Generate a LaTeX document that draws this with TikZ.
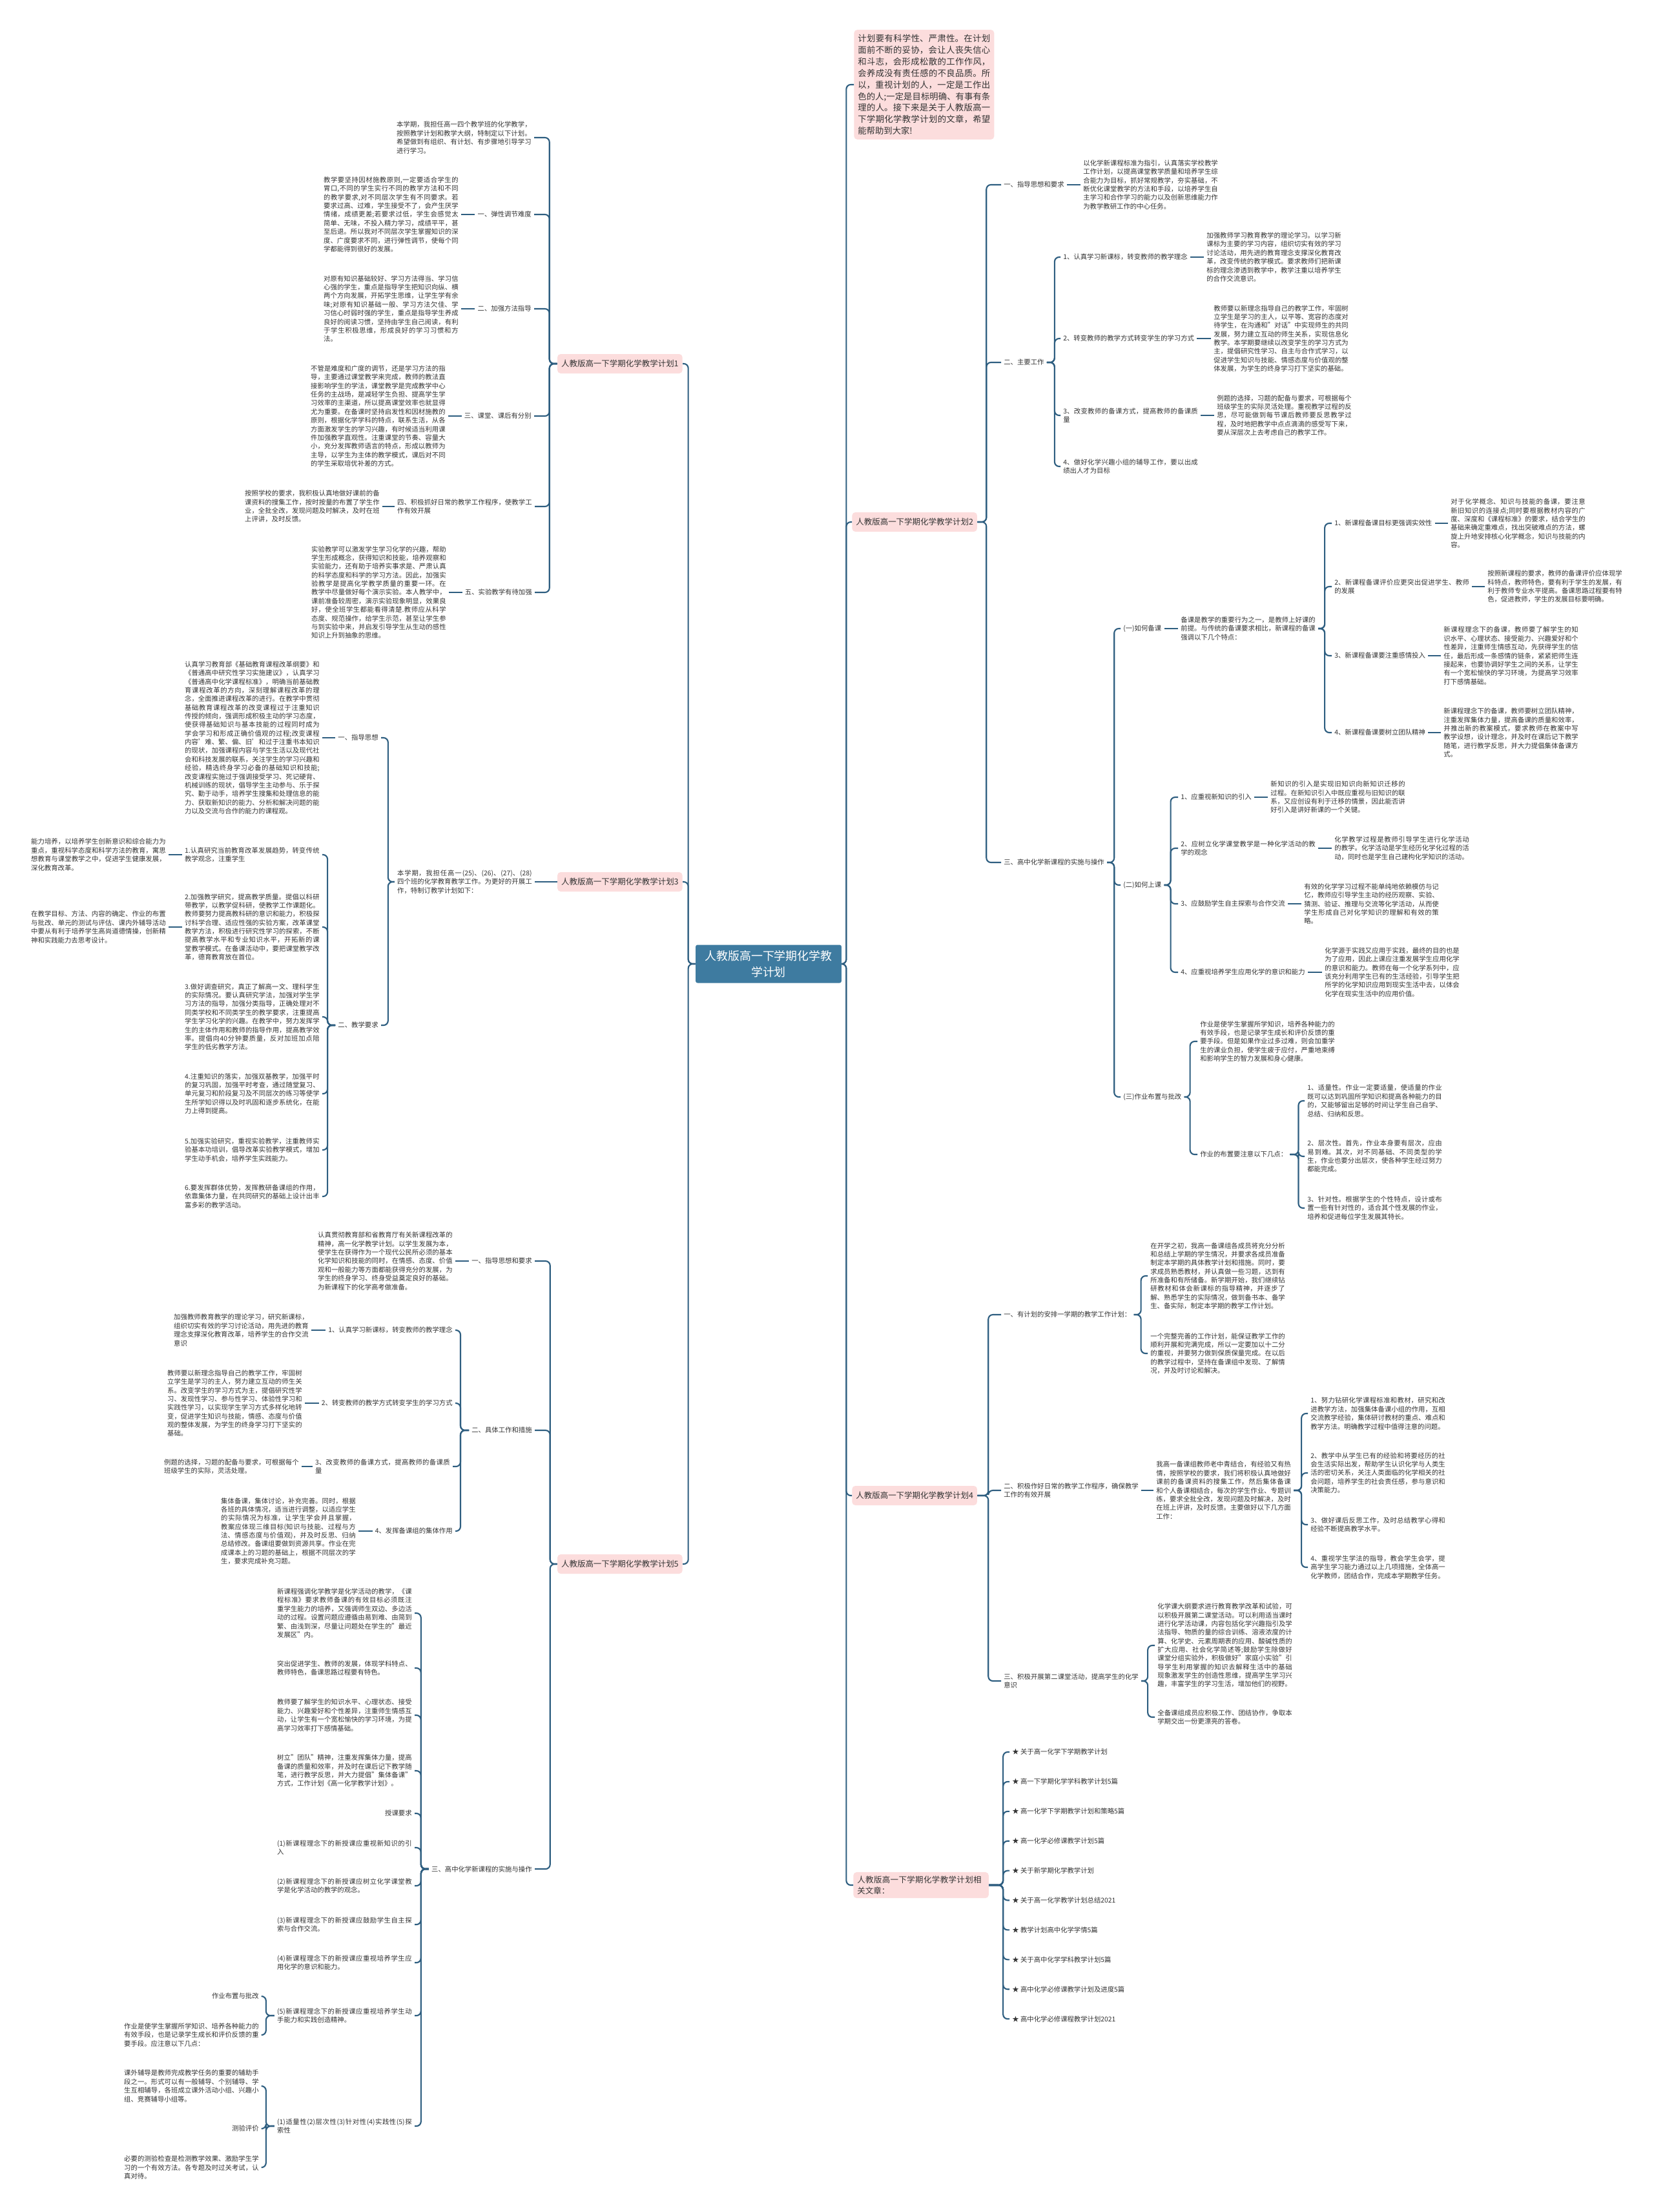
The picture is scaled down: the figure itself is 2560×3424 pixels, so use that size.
\documentclass[tikz,border=0pt]{standalone}
\usepackage{fontspec}
\setmainfont{Noto Sans CJK SC}
\XeTeXlinebreaklocale "zh"
\XeTeXlinebreakskip=0pt plus 1pt
\setlength{\parindent}{0pt}
\definecolor{linkblue}{RGB}{46,94,128}
\definecolor{inkgray}{RGB}{51,51,51}
\definecolor{planpink}{RGB}{252,221,221}
\definecolor{rootblue}{RGB}{62,123,160}

\begin{document}
\begin{tikzpicture}[
  x=0.02cm, y=-0.02cm,
  link/.style={draw=linkblue, line width=1.2pt, rounded corners=0.14cm},
  txt/.style={font=\fontsize{5.9}{7.6}\selectfont, text=inkgray,
    inner xsep=0.08cm, inner ysep=0.03cm},
  para/.style={txt, text width=4.17cm, align=justify},
  lt/.style={anchor=east},
  rt/.style={anchor=west},
  plan/.style={fill=planpink, rounded corners=0.1cm, text=inkgray,
    font=\fontsize{7.1}{9.6}\selectfont, inner xsep=0.12cm, minimum height=0.6cm},
  root/.style={fill=rootblue, text=white, rounded corners=0.06cm,
    font=\fontsize{10.2}{14.2}\selectfont, align=center,
    minimum width=4.52cm, minimum height=1.18cm},
  intro/.style={plan, font=\fontsize{7.6}{10.2}\selectfont, text width=4.1cm,
    align=justify, inner ysep=0.14cm}
]
\fill[white] (0,0) rectangle (2560,3424);
\useasboundingbox (0,0) rectangle (2560,3424);

\node[root] (root) at (1190,1492) {人教版高一下学期化学教\\学计划};

% plan 1
\node[plan, lt] (p1) at (1057,563) {人教版高一下学期化学教学计划1};
\node[para, lt] (p1t) at (827,213) {本学期，我担任高一四个教学班的化学教学，按照教学计划和教学大纲，特制定以下计划。希望做到有组织、有计划、有步骤地引导学习进行学习。};
\node[txt, lt] (p1a) at (827,332) {一、弹性调节难度};
\node[para, lt] (p1at) at (714,332) {教学要坚持因材施教原则,一定要适合学生的胃口,不同的学生实行不同的教学方法和不同的教学要求,对不同层次学生有不同要求。若要求过高、过难，学生接受不了，会产生厌学情绪，成绩更差;若要求过低，学生会感觉太简单、无味，不投入精力学习，成绩平平，甚至后退。所以我对不同层次学生掌握知识的深度、广度要求不同，进行弹性调节，使每个同学都能得到很好的发展。};
\node[txt, lt] (p1b) at (827,478) {二、加强方法指导};
\node[para, lt] (p1bt) at (714,478) {对原有知识基础较好、学习方法得当、学习信心强的学生，重点是指导学生把知识向纵、横两个方向发展，开拓学生思维，让学生学有余味;对原有知识基础一般、学习方法欠佳、学习信心时弱时强的学生，重点是指导学生养成良好的阅读习惯，坚持由学生自己阅读，有利于学生积极思维，形成良好的学习习惯和方法。};
\node[txt, lt] (p1c) at (827,644) {三、课堂、课后有分别};
\node[para, lt] (p1ct) at (694,644) {不管是难度和广度的调节，还是学习方法的指导，主要通过课堂教学来完成，教师的教法直接影响学生的学法，课堂教学是完成教学中心任务的主战场，是减轻学生负担、提高学生学习效率的主渠道，所以提高课堂效率也就显得尤为重要。在备课时坚持启发性和因材施教的原则，根据化学学科的特点，联系生活，从各方面激发学生的学习兴趣，有时候适当利用课件加强教学直观性。注重课堂的节奏、容量大小，充分发挥教师语言的特点，形成以教师为主导，以学生为主体的教学模式，课后对不同的学生采取培优补差的方式。};
\node[para, lt] (p1d) at (828,784) {四、积极抓好日常的教学工作程序，使教学工作有效开展};
\node[para, lt] (p1dt) at (592,784) {按照学校的要求，我积极认真地做好课前的备课资料的搜集工作，按时按量的布置了学生作业，全批全改，发现问题及时解决，及时在班上评讲，及时反馈。};
\node[txt, lt] (p1e) at (828,917) {五、实验教学有待加强};
\node[para, lt] (p1et) at (695,917) {实验教学可以激发学生学习化学的兴趣，帮助学生形成概念，获得知识和技能，培养观察和实验能力，还有助于培养实事求是、严肃认真的科学态度和科学的学习方法。因此，加强实验教学是提高化学教学质量的重要一环。在教学中尽量做好每个演示实验。本人教学中，课前准备较周密，演示实验现象明显，效果良好，使全班学生都能看得清楚.教师应从科学态度、规范操作，给学生示范，甚至让学生参与到实验中来，并启发引导学生从生动的感性知识上升到抽象的思维。};

% plan 3
\node[plan, lt] (p3) at (1057,1365) {人教版高一下学期化学教学计划3};
\node[para, lt] (p3t) at (828,1365) {本学期，我担任高一(25)、(26)、(27)、(28)四个班的化学教育教学工作。为更好的开展工作，特制订教学计划如下：};
\node[txt, lt] (p3a) at (590,1142) {一、指导思想};
\node[para, lt] (p3at) at (499,1142) {认真学习教育部《基础教育课程改革纲要》和《普通高中研究性学习实施建议》，认真学习《普通高中化学课程标准》，明确当前基础教育课程改革的方向，深刻理解课程改革的理念，全面推进课程改革的进行。在教学中贯彻基础教育课程改革的改变课程过于注重知识传授的倾向，强调形成积极主动的学习态度，使获得基础知识与基本技能的过程同时成为学会学习和形成正确价值观的过程;改变课程内容'难、繁、偏、旧'和过于注重书本知识的现状，加强课程内容与学生生活以及现代社会和科技发展的联系，关注学生的学习兴趣和经验，精选终身学习必备的基础知识和技能;改变课程实施过于强调接受学习、死记硬背、机械训练的现状，倡导学生主动参与、乐于探究、勤于动手，培养学生搜集和处理信息的能力、获取新知识的能力、分析和解决问题的能力以及交流与合作的能力的课程观。};
\node[txt, lt] (p3b) at (590,1587) {二、教学要求};
\node[para, lt] (p3b1) at (499,1323) {1.认真研究当前教育改革发展趋势，转变传统教学观念，注重学生};
\node[para, lt] (p3b1x) at (261,1323) {能力培养，以培养学生创新意识和综合能力为重点，重视科学态度和科学方法的教育，寓思想教育与课堂教学之中，促进学生健康发展，深化教育改革。};
\node[para, lt] (p3b2) at (499,1435) {2.加强教学研究，提高教学质量。提倡以科研带教学，以教学促科研，使教学工作课题化。教师要努力提高教科研的意识和能力，积极探讨科学合理、适应性强的实验方案，改革课堂教学方法，积极进行研究性学习的探索，不断提高教学水平和专业知识水平，开拓新的课堂教学模式。在备课活动中，要把课堂教学改革，德育教育放在首位。};
\node[para, lt] (p3b2x) at (261,1435) {在教学目标、方法、内容的确定、作业的布置与批改、单元的测试与评估、课内外辅导活动中要从有利于培养学生高尚道德情操，创新精神和实践能力去思考设计。};
\node[para, lt] (p3b3) at (499,1574) {3.做好调查研究，真正了解高一文、理科学生的实际情况。要认真研究学法，加强对学生学习方法的指导，加强分类指导，正确处理对不同类学校和不同类学生的教学要求，注重提高学生学习化学的兴趣。在教学中，努力发挥学生的主体作用和教师的指导作用，提高教学效率。提倡向40分钟要质量，反对加班加点陪学生的低劣教学方法。};
\node[para, lt] (p3b4) at (499,1693) {4.注重知识的落实，加强双基教学，加强平时的复习巩固，加强平时考查，通过随堂复习、单元复习和阶段复习及不同层次的练习等使学生所学知识得以及时巩固和逐步系统化，在能力上得到提高。};
\node[para, lt] (p3b5) at (499,1780) {5.加强实验研究，重视实验教学，注重教师实验基本功培训，倡导改革实验教学模式，增加学生动手机会，培养学生实践能力。};
\node[para, lt] (p3b6) at (499,1852) {6.要发挥群体优势，发挥教研备课组的作用，依靠集体力量，在共同研究的基础上设计出丰富多彩的教学活动。};

% plan 5
\node[plan, lt] (p5) at (1057,2421) {人教版高一下学期化学教学计划5};
\node[txt, lt] (p5a) at (828,1952) {一、指导思想和要求};
\node[para, lt] (p5at) at (705,1952) {认真贯彻教育部和省教育厅有关新课程改革的精神，高一化学教学计划。以学生发展为本，使学生在获得作为一个现代公民所必须的基本化学知识和技能的同时，在情感、态度、价值观和一般能力等方面都能获得充分的发展，为学生的终身学习、终身受益奠定良好的基础。为新课程下的化学高考做准备。};
\node[txt, lt] (p5b) at (828,2214) {二、具体工作和措施};
\node[txt, lt] (p5b1) at (705,2059) {1、认真学习新课标，转变教师的教学理念};
\node[para, lt] (p5b1t) at (482,2059) {加强教师教育教学的理论学习，研究新课标，组织切实有效的学习讨论活动，用先进的教育理念支撑深化教育改革，培养学生的合作交流意识};
\node[txt, lt] (p5b2) at (705,2172) {2、转变教师的教学方式转变学生的学习方式};
\node[para, lt] (p5b2t) at (472,2172) {教师要以新理念指导自己的教学工作，牢固树立学生是学习的主人，努力建立互动的师生关系。改变学生的学习方式为主，提倡研究性学习、发现性学习、参与性学习、体验性学习和实践性学习，以实现学生学习方式多样化地转变，促进学生知识与技能，情感、态度与价值观的整体发展，为学生的终身学习打下坚实的基础。};
\node[para, lt] (p5b3) at (701,2270) {3、改变教师的备课方式，提高教师的备课质量};
\node[para, lt] (p5b3t) at (467,2270) {例题的选择，习题的配备与要求，可根据每个班级学生的实际，灵活处理。};
\node[txt, lt] (p5b4) at (705,2370) {4、发挥备课组的集体作用};
\node[para, lt] (p5b4t) at (555,2370) {集体备课，集体讨论，补充完善。同时，根据各班的具体情况，适当进行调整，以适应学生的实际情况为标准，让学生学会并且掌握，教案应体现三维目标(知识与技能、过程与方法、情感态度与价值观)，并及时反思、归纳总结修改。备课组要做到资源共享。作业在完成课本上的习题的基础上，根据不同层次的学生，要求完成补充习题。};
\node[txt, lt] (p5c) at (828,2893) {三、高中化学新课程的实施与操作};
\node[para, lt] (c1) at (642,2497) {新课程强调化学教学是化学活动的教学，《课程标准》要求教师备课的有效目标必须既注重学生能力的培养，又强调师生双边、多边活动的过程。设置问题应遵循由易到难、由简到繁、由浅到深，尽量让问题处在学生的"最近发展区"内。};
\node[para, lt] (c2) at (642,2582) {突出促进学生、教师的发展，体现学科特点、教师特色，备课思路过程要有特色。};
\node[para, lt] (c3) at (642,2655) {教师要了解学生的知识水平、心理状态、接受能力、兴趣爱好和个性差异，注重师生情感互动，让学生有一个宽松愉快的学习环境，为提高学习效率打下感情基础。};
\node[para, lt] (c4) at (642,2741) {树立"团队"精神，注重发挥集体力量，提高备课的质量和效率，并及时在课后记下教学随笔，进行教学反思，并大力提倡"集体备课"方式，工作计划《高一化学教学计划》。};
\node[txt, lt] (c5) at (642,2807) {授课要求};
\node[para, lt] (c6) at (642,2860) {(1)新课程理念下的新授课应重视新知识的引入};
\node[para, lt] (c7) at (642,2919) {(2)新课程理念下的新授课应树立化学课堂教学是化学活动的教学的观念。};
\node[para, lt] (c8) at (642,2979) {(3)新课程理念下的新授课应鼓励学生自主探索与合作交流。};
\node[para, lt] (c9) at (642,3038) {(4)新课程理念下的新授课应重视培养学生应用化学的意识和能力。};
\node[para, lt] (c10) at (642,3120) {(5)新课程理念下的新授课应重视培养学生动手能力和实践创造精神。};
\node[para, lt] (c11) at (642,3291) {(1)适量性(2)层次性(3)针对性(4)实践性(5)探索性};
\node[txt, lt] (c12) at (405,3090) {作业布置与批改};
\node[para, lt] (c13) at (405,3150) {作业是使学生掌握所学知识、培养各种能力的有效手段，也是记录学生成长和评价反馈的重要手段。应注意以下几点：};
\node[para, lt] (c14) at (405,3229) {课外辅导是教师完成教学任务的重要的辅助手段之一。形式可以有一般辅导、个别辅导、学生互相辅导，各班成立课外活动小组、兴趣小组、竞赛辅导小组等。};
\node[txt, lt] (c15) at (405,3295) {测验评价};
\node[para, lt] (c16) at (405,3355) {必要的测验检查是检测教学效果、激励学生学习的一个有效方法。各专题及时过关考试，认真对待。};

% intro and plan 2
\node[intro, rt] (intro) at (1322,131) {计划要有科学性、严肃性。在计划面前不断的妥协，会让人丧失信心和斗志，会形成松散的工作作风，会养成没有责任感的不良品质。所以，重视计划的人，一定是工作出色的人;一定是目标明确、有事有条理的人。接下来是关于人教版高一下学期化学教学计划的文章，希望能帮助到大家!};
\node[plan, rt] (p2) at (1319,808) {人教版高一下学期化学教学计划2};
\node[txt, rt] (p2a) at (1550,286) {一、指导思想和要求};
\node[para, rt] (p2at) at (1673,286) {以化学新课程标准为指引，认真落实学校教学工作计划，以提高课堂教学质量和培养学生综合能力为目标，抓好常规教学，夯实基础，不断优化课堂教学的方法和手段，以培养学生自主学习和合作学习的能力以及创新思维能力作为教学教研工作的中心任务。};
\node[txt, rt] (p2b) at (1550,561) {二、主要工作};
\node[txt, rt] (p2b1) at (1642,398) {1、认真学习新课标，转变教师的教学理念};
\node[para, rt] (p2b1t) at (1864,398) {加强教师学习教育教学的理论学习。以学习新课标为主要的学习内容，组织切实有效的学习讨论活动，用先进的教育理念支撑深化教育改革，改变传统的教学模式。要求教师们把新课标的理念渗透到教学中，教学注重以培养学生的合作交流意识。};
\node[txt, rt] (p2b2) at (1642,524) {2、转变教师的教学方式转变学生的学习方式};
\node[para, rt] (p2b2t) at (1875,524) {教师要以新理念指导自己的教学工作，牢固树立学生是学习的主人，以平等、宽容的态度对待学生，在沟通和"对话"中实现师生的共同发展，努力建立互动的师生关系，实现信息化教学。本学期要继续以改变学生的学习方式为主，提倡研究性学习、自主与合作式学习，以促进学生知识与技能、情感态度与价值观的整体发展，为学生的终身学习打下坚实的基础。};
\node[para, rt] (p2b3) at (1642,643) {3、改变教师的备课方式，提高教师的备课质量};
\node[para, rt] (p2b3t) at (1880,643) {例题的选择，习题的配备与要求，可根据每个班级学生的实际灵活处理。重视教学过程的反思，尽可能做到每节课后教师要反思教学过程，及时地把教学中点点滴滴的感受写下来，要从深层次上去考虑自己的教学工作。};
\node[para, rt] (p2b4) at (1642,722) {4、做好化学兴趣小组的辅导工作，要以出成绩出人才为目标};
\node[txt, rt] (p2c) at (1550,1335) {三、高中化学新课程的实施与操作};
\node[txt, rt] (p2c1) at (1735,973) {(一)如何备课};
\node[para, rt] (p2c1t) at (1824,973) {备课是教学的重要行为之一，是教师上好课的前提。与传统的备课要求相比，新课程的备课强调以下几个特点：};
\node[txt, rt] (q1) at (2062,810) {1、新课程备课目标更强调实效性};
\node[para, rt] (q1t) at (2242,810) {对于化学概念、知识与技能的备课，要注意新旧知识的连接点;同时要根据教材内容的广度、深度和《课程标准》的要求，结合学生的基础来确定重难点，找出突破难点的方法，螺旋上升地安排核心化学概念，知识与技能的内容。};
\node[para, rt] (q2) at (2062,908) {2、新课程备课评价应更突出促进学生、教师的发展};
\node[para, rt] (q2t) at (2299,908) {按照新课程的要求，教师的备课评价应体现学科特点，教师特色，要有利于学生的发展，有利于教师专业水平提高。备课思路过程要有特色，促进教师，学生的发展目标要明确。};
\node[txt, rt] (q3) at (2062,1015) {3、新课程备课要注重感情投入};
\node[para, rt] (q3t) at (2231,1015) {新课程理念下的备课，教师要了解学生的知识水平、心理状态、接受能力、兴趣爱好和个性差异，注重师生情感互动，先获得学生的信任，最后形成一条感情的链条，紧紧把师生连接起来，也要协调好学生之间的关系，让学生有一个宽松愉快的学习环境，为提高学习效率打下感情基础。};
\node[txt, rt] (q4) at (2062,1134) {4、新课程备课要树立团队精神};
\node[para, rt] (q4t) at (2231,1134) {新课程理念下的备课，教师要树立团队精神，注重发挥集体力量，提高备课的质量和效率，并推出新的教案模式，要求教师在教案中写教学设想，设计理念，并及时在课后记下教学随笔，进行教学反思，并大力提倡集体备课方式。};
\node[txt, rt] (p2c2) at (1735,1370) {(二)如何上课};
\node[txt, rt] (r1) at (1824,1234) {1、应重视新知识的引入};
\node[para, rt] (r1t) at (1963,1234) {新知识的引入是实现旧知识向新知识迁移的过程。在新知识引入中既应重视与旧知识的联系，又应创设有利于迁移的情景，因此能否讲好引入是讲好新课的一个关键。};
\node[para, rt] (r2) at (1824,1313) {2、应树立化学课堂教学是一种化学活动的教学的观念};
\node[para, rt] (r2t) at (2062,1313) {化学教学过程是教师引导学生进行化学活动的教学。化学活动是学生经历化学化过程的活动，同时也是学生自己建构化学知识的活动。};
\node[txt, rt] (r3) at (1824,1399) {3、应鼓励学生自主探索与合作交流};
\node[para, rt] (r3t) at (2015,1399) {有效的化学学习过程不能单纯地依赖模仿与记忆，教师应引导学生主动的经历观察、实验、猜测、验证、推理与交流等化学活动，从而使学生形成自己对化学知识的理解和有效的策略。};
\node[txt, rt] (r4) at (1824,1505) {4、应重视培养学生应用化学的意识和能力};
\node[para, rt] (r4t) at (2047,1505) {化学源于实践又应用于实践，最终的目的也是为了应用，因此上课应注重发展学生应用化学的意识和能力。教师在每一个化学系列中，应该充分利用学生已有的生活经验，引导学生把所学的化学知识应用到现实生活中去，以体会化学在现实生活中的应用价值。};
\node[txt, rt] (p2c3) at (1735,1698) {(三)作业布置与批改};
\node[para, rt] (s1) at (1854,1612) {作业是使学生掌握所学知识，培养各种能力的有效手段，也是记录学生成长和评价反馈的重要手段。但是如果作业过多过难，则会加重学生的课业负担，使学生疲于应付，严重地束缚和影响学生的智力发展和身心健康。};
\node[txt, rt] (s2) at (1854,1787) {作业的布置要注意以下几点：};
\node[para, rt] (s21) at (2020,1704) {1、适量性。作业一定要适量，使适量的作业既可以达到巩固所学知识和提高各种能力的目的，又能够留出足够的时间让学生自己自学、总结、归纳和反思。};
\node[para, rt] (s22) at (2020,1790) {2、层次性。首先，作业本身要有层次，应由易到难。其次，对不同基础、不同类型的学生，作业也要分出层次，使各种学生经过努力都能完成。};
\node[para, rt] (s23) at (2020,1870) {3、针对性。根据学生的个性特点，设计或布置一些有针对性的，适合其个性发展的作业，培养和促进每位学生发展其特长。};

% plan 4
\node[plan, rt] (p4) at (1319,2315) {人教版高一下学期化学教学计划4};
\node[txt, rt] (p4a) at (1550,2035) {一、有计划的安排一学期的教学工作计划：};
\node[para, rt] (p4a1) at (1777,1975) {在开学之初，我高一备课组各成员将充分分析和总结上学期的学生情况，并要求各成员准备制定本学期的具体教学计划和措施。同时，要求成员熟悉教材，并认真做一些习题，达到有所准备和有所储备。新学期开始，我们继续钻研教材和体会新课标的指导精神，并逐步了解、熟悉学生的实际情况，做到备书本、备学生、备实际，制定本学期的教学工作计划。};
\node[para, rt] (p4a2) at (1777,2095) {一个完整完善的工作计划，能保证教学工作的顺利开展和完满完成，所以一定要加以十二分的重视，并要努力做到保质保量完成。在以后的教学过程中，坚持在备课组中发现、了解情况，并及时讨论和解决。};
\node[para, rt] (p4b) at (1550,2307) {二、积极作好日常的教学工作程序，确保教学工作的有效开展};
\node[para, rt] (p4bt) at (1786,2307) {我高一备课组教师老中青结合，有经验又有热情，按照学校的要求，我们将积极认真地做好课前的备课资料的搜集工作，然后集体备课和个人备课相结合，每次的学生作业、专题训练，要求全批全改，发现问题及时解决，及时在班上评讲，及时反馈。主要做好以下几方面工作：};
\node[para, rt] (p4b1) at (2025,2188) {1、努力钻研化学课程标准和教材，研究和改进教学方法，加强集体备课小组的作用，互相交流教学经验，集体研讨教材的重点、难点和教学方法。明确教学过程中值得注意的问题。};
\node[para, rt] (p4b2) at (2025,2280) {2、教学中从学生已有的经验和将要经历的社会生活实际出发，帮助学生认识化学与人类生活的密切关系，关注人类面临的化学相关的社会问题，培养学生的社会责任感，参与意识和决策能力。};
\node[para, rt] (p4b3) at (2025,2360) {3、做好课后反思工作，及时总结教学心得和经验不断提高教学水平。};
\node[para, rt] (p4b4) at (2025,2426) {4、重视学生学法的指导，教会学生会学，提高学生学习能力通过以上几项措施，全体高一化学教师，团结合作，完成本学期教学任务。};
\node[para, rt] (p4c) at (1550,2602) {三、积极开展第二课堂活动，提高学生的化学意识};
\node[para, rt] (p4c1) at (1788,2547) {化学课大纲要求进行教育教学改革和试验，可以积极开展第二课堂活动。可以利用适当课时进行化学活动课，内容包括化学兴趣指引及学法指导、物质的量的综合训练、溶液浓度的计算、化学史、元素周期表的应用、酸碱性质的扩大应用、社会化学简述等;鼓励学生除做好课堂分组实验外，积极做好"家庭小实验"引导学生利用掌握的知识去解释生活中的基础现象激发学生的创造性思维，提高学生学习兴趣，丰富学生的学习生活，增加他们的视野。};
\node[para, rt] (p4c2) at (1788,2658) {全备课组成员应积极工作、团结协作，争取本学期交出一份更漂亮的答卷。};

% related articles
\node[plan, rt, text width=3.95cm, align=left] (rel) at (1321,2918) {人教版高一下学期化学教学计划相关文章：};
\foreach \t [count=\i from 0] in {关于高一化学下学期教学计划,高一下学期化学学科教学计划5篇,高一化学下学期教学计划和策略5篇,高一化学必修课教学计划5篇,关于新学期化学教学计划,关于高一化学教学计划总结2021,教学计划高中化学学情5篇,关于高中化学学科教学计划5篇,高中化学必修课教学计划及进度5篇,高中化学必修课程教学计划2021}
  \node[txt, rt] (a\i) at (1563,{2712+45.9*\i}) {★ \t};

% trunks
\foreach \n in {p1,p3,p5}
  \draw[link] (root.west) -- ++(-11,0) |- (\n.east);
\foreach \n in {intro,p2,p4,rel}
  \draw[link] (root.east) -- ++(7,0) |- (\n.west);

% left brackets
\foreach \n in {p1t,p1a,p1b,p1c,p1d,p1e}
  \draw[link] (p1.west) -- ++(-12,0) |- (\n.east);
\foreach \n in {a,b,c,d,e}
  \draw[link] (p1\n t.east) -- (p1\n.west);
\draw[link] (p3.west) -- (p3t.east);
\foreach \n in {p3a,p3b}
  \draw[link] (p3t.west) -- ++(-10,0) |- (\n.east);
\draw[link] (p3at.east) -- (p3a.west);
\foreach \n in {1,...,6}
  \draw[link] (p3b.west) -- ++(-12,0) |- (p3b\n.east);
\draw[link] (p3b1x.east) -- (p3b1.west);
\draw[link] (p3b2x.east) -- (p3b2.west);
\foreach \n in {p5a,p5b,p5c}
  \draw[link] (p5.west) -- ++(-11,0) |- (\n.east);
\draw[link] (p5at.east) -- (p5a.west);
\foreach \n in {1,...,4} {
  \draw[link] (p5b.west) -- ++(-13,0) |- (p5b\n.east);
  \draw[link] (p5b\n t.east) -- (p5b\n.west);
}
\foreach \n in {1,...,11}
  \draw[link] (p5c.west) -- ++(-12,0) |- (c\n.east);
\foreach \n in {c12,c13}
  \draw[link] (c10.west) -- ++(-13,0) |- (\n.east);
\foreach \n in {c14,c15,c16}
  \draw[link] (c11.west) -- ++(-13,0) |- (\n.east);

% right brackets
\foreach \n in {p2a,p2b,p2c}
  \draw[link] (p2.east) -- ++(14,0) |- (\n.west);
\draw[link] (p2a.east) -- (p2at.west);
\foreach \n in {1,...,4}
  \draw[link] (p2b.east) -- ++(12,0) |- (p2b\n.west);
\foreach \n in {1,2,3}
  \draw[link] (p2b\n.east) -- (p2b\n t.west);
\foreach \n in {p2c1,p2c2,p2c3}
  \draw[link] (p2c.east) -- ++(11,0) |- (\n.west);
\draw[link] (p2c1.east) -- (p2c1t.west);
\foreach \n in {1,...,4} {
  \draw[link] (p2c1t.east) -- ++(10,0) |- (q\n.west);
  \draw[link] (q\n.east) -- (q\n t.west);
  \draw[link] (p2c2.east) -- ++(10,0) |- (r\n.west);
  \draw[link] (r\n.east) -- (r\n t.west);
}
\foreach \n in {s1,s2}
  \draw[link] (p2c3.east) -- ++(9,0) |- (\n.west);
\foreach \n in {s21,s22,s23}
  \draw[link] (s2.east) -- ++(13,0) |- (\n.west);
\foreach \n in {p4a,p4b,p4c}
  \draw[link] (p4.east) -- ++(17,0) |- (\n.west);
\foreach \n in {p4a1,p4a2}
  \draw[link] (p4a.east) -- ++(11,0) |- (\n.west);
\draw[link] (p4b.east) -- (p4bt.west);
\foreach \n in {1,...,4}
  \draw[link] (p4bt.east) -- ++(12,0) |- (p4b\n.west);
\foreach \n in {p4c1,p4c2}
  \draw[link] (p4c.east) -- ++(10,0) |- (\n.west);
\foreach \i in {0,...,9}
  \draw[link] (rel.east) -- ++(22,0) |- (a\i.west);
\end{tikzpicture}
\end{document}
